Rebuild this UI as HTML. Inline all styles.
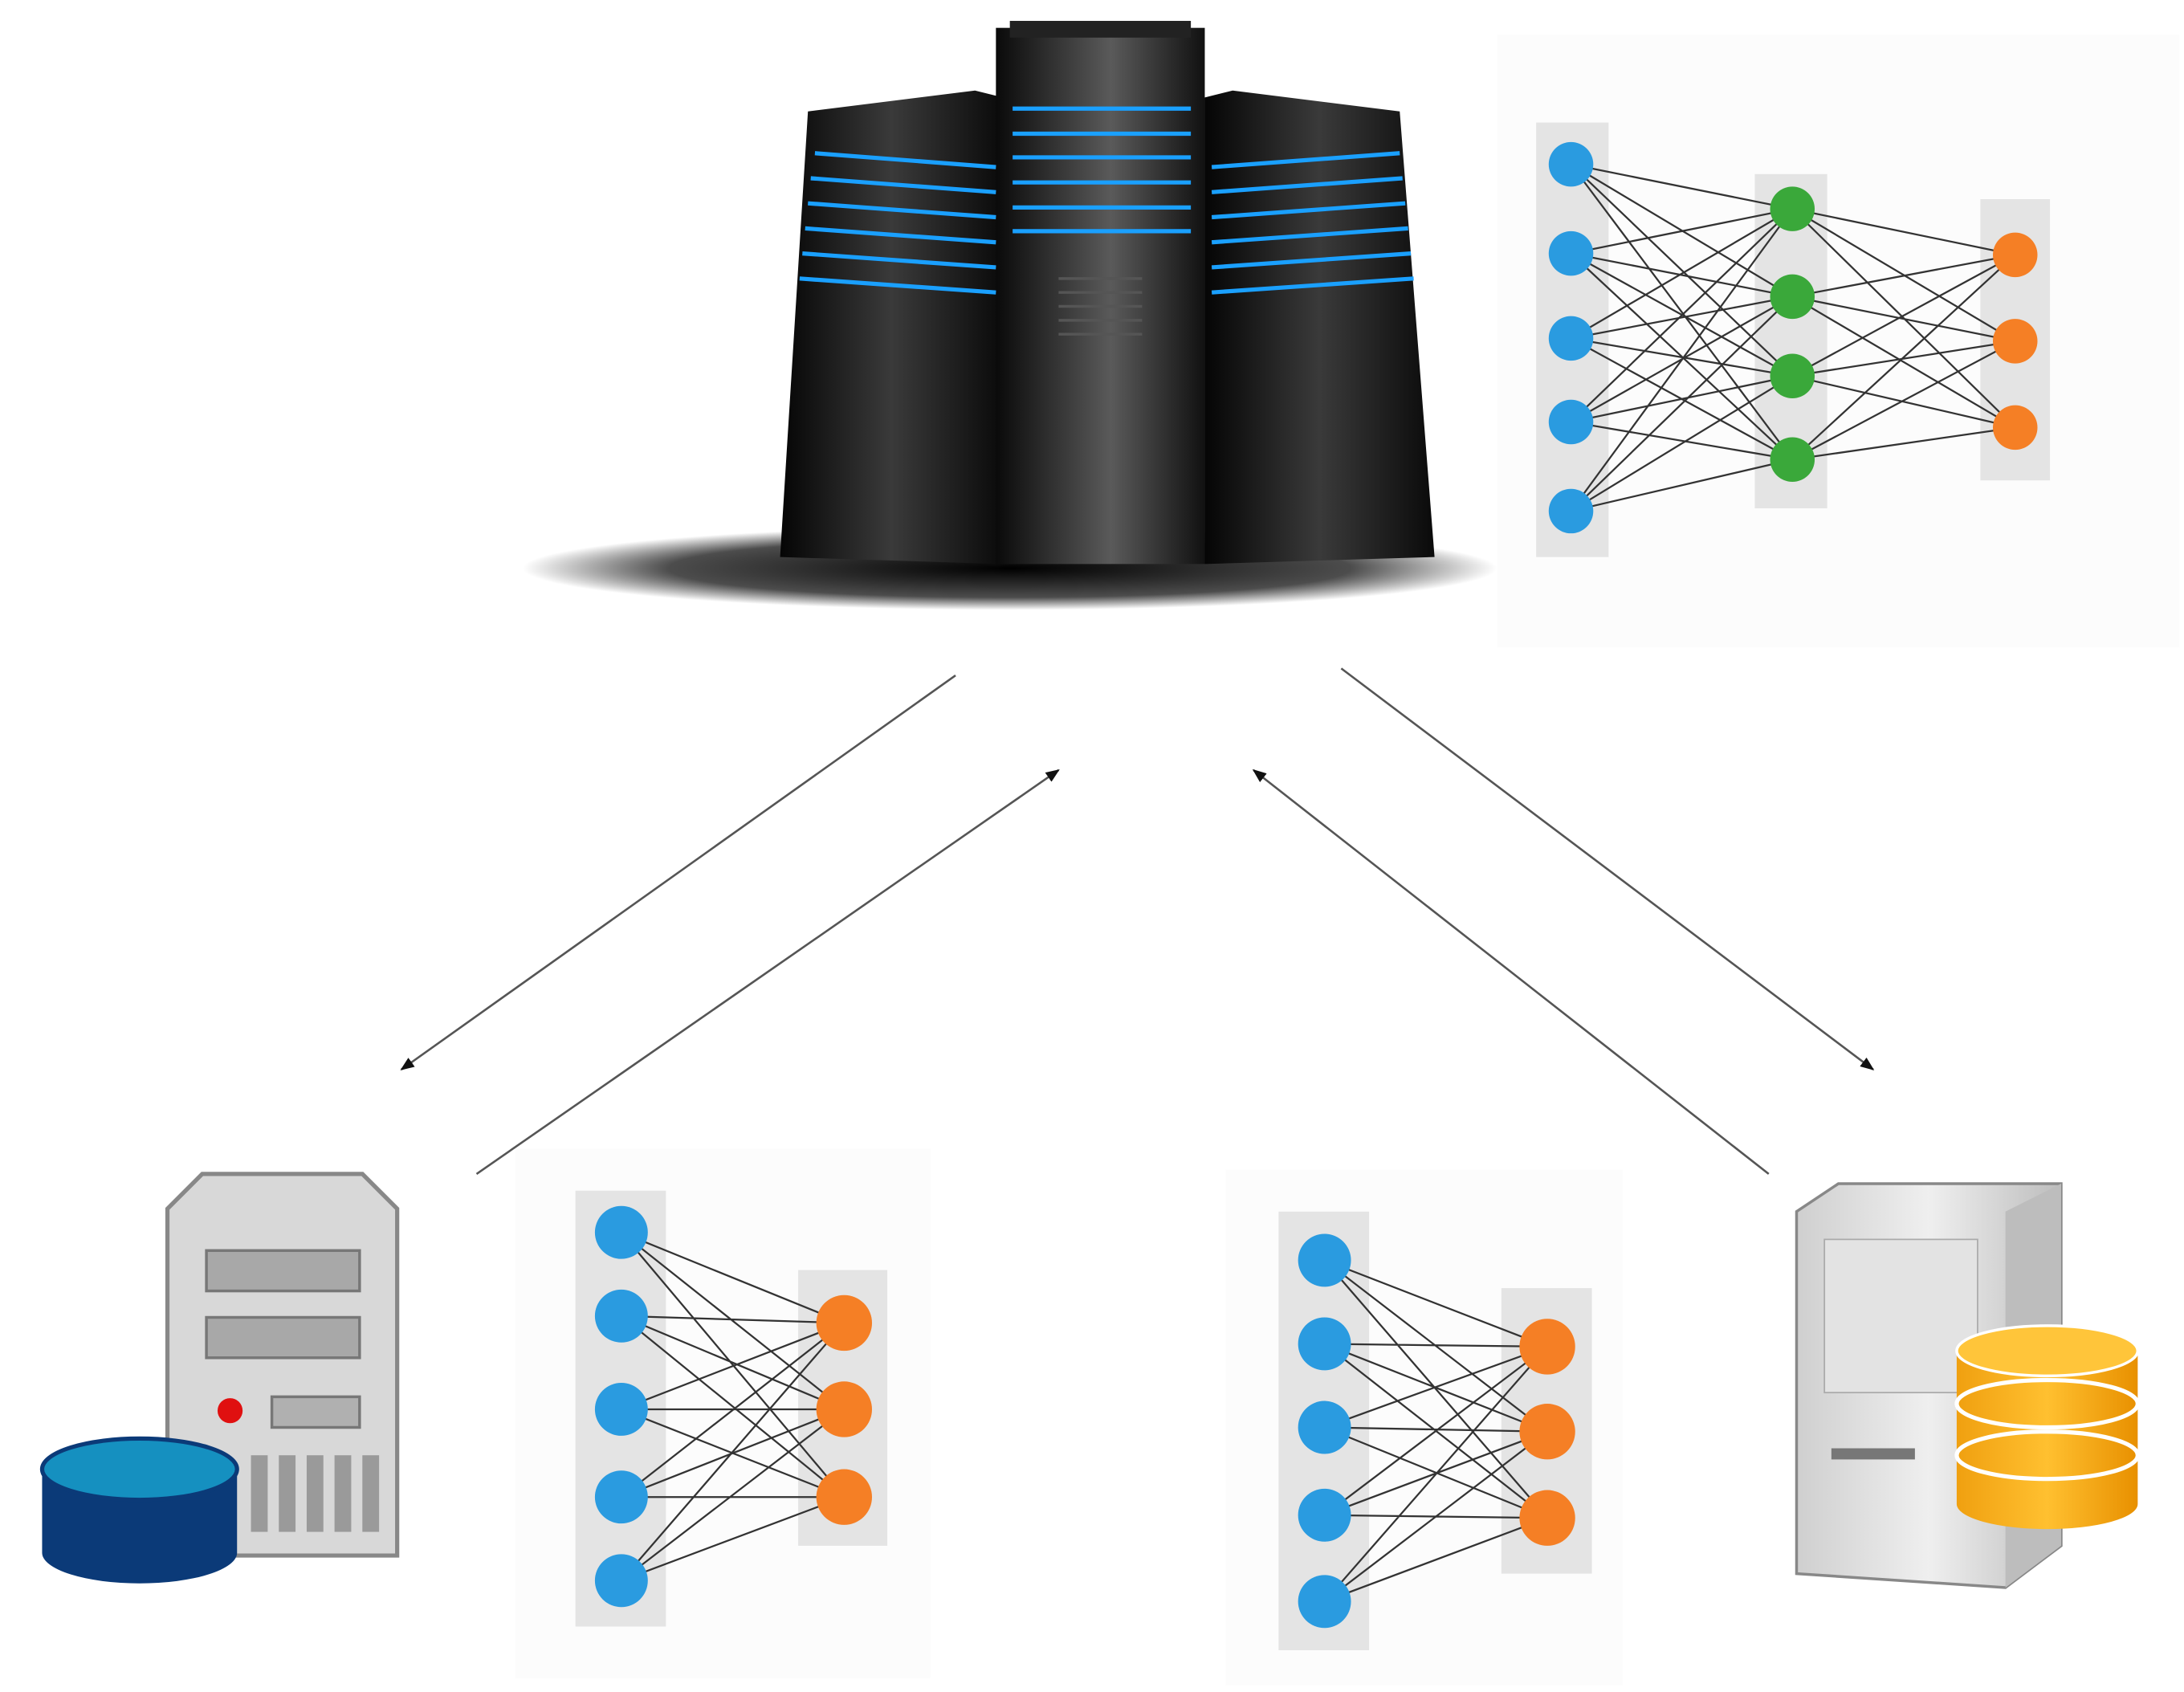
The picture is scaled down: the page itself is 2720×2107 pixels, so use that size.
<!DOCTYPE html>
<html><head><meta charset="utf-8"><style>html,body{margin:0;padding:0;background:#fff}svg{display:block}</style></head>
<body>
<svg width="2720" height="2107" viewBox="0 0 1568 1215" xmlns="http://www.w3.org/2000/svg">
<defs>
<linearGradient id="tw" x1="0" x2="1"><stop offset="0" stop-color="#050505"/><stop offset="0.5" stop-color="#3a3a3a"/><stop offset="1" stop-color="#0a0a0a"/></linearGradient>
<linearGradient id="tc" x1="0" x2="1"><stop offset="0" stop-color="#0a0a0a"/><stop offset="0.55" stop-color="#5a5a5a"/><stop offset="1" stop-color="#111"/></linearGradient>
<radialGradient id="sh" cx="0.5" cy="0.5" r="0.5"><stop offset="0" stop-color="#000"/><stop offset="0.7" stop-color="#000" stop-opacity="0.7"/><stop offset="1" stop-color="#000" stop-opacity="0"/></radialGradient>
<linearGradient id="gs" x1="0" x2="1"><stop offset="0" stop-color="#cfcfcf"/><stop offset="0.5" stop-color="#efefef"/><stop offset="1" stop-color="#bdbdbd"/></linearGradient>
<linearGradient id="org" x1="0" x2="1"><stop offset="0" stop-color="#f0a010"/><stop offset="0.5" stop-color="#ffc030"/><stop offset="1" stop-color="#e89000"/></linearGradient>
<marker id="ah" markerWidth="10" markerHeight="8" refX="9" refY="4" orient="auto" markerUnits="userSpaceOnUse"><path d="M0,0 L10,4 L0,8 z" fill="#111"/></marker>
</defs>
<!-- server cluster -->
<ellipse cx="725" cy="408" rx="350" ry="30" fill="url(#sh)"/>
<g>
<path d="M580 80 L700 65 L720 70 L720 405 L560 400 Z" fill="url(#tw)"/>
<path d="M865 70 L885 65 L1005 80 L1030 400 L865 405 Z" fill="url(#tw)"/>
<rect x="715" y="20" width="150" height="385" fill="url(#tc)"/>
<rect x="725" y="15" width="130" height="12" fill="#222"/>
<g stroke="#1aa0ff" stroke-width="3">
<line x1="727" y1="78" x2="855" y2="78"/><line x1="727" y1="96" x2="855" y2="96"/><line x1="727" y1="113" x2="855" y2="113"/><line x1="727" y1="131" x2="855" y2="131"/><line x1="727" y1="149" x2="855" y2="149"/><line x1="727" y1="166" x2="855" y2="166"/>
<line x1="585" y1="110" x2="715" y2="120"/><line x1="582" y1="128" x2="715" y2="138"/><line x1="580" y1="146" x2="715" y2="156"/><line x1="578" y1="164" x2="715" y2="174"/><line x1="576" y1="182" x2="715" y2="192"/><line x1="574" y1="200" x2="715" y2="210"/>
<line x1="870" y1="120" x2="1005" y2="110"/><line x1="870" y1="138" x2="1007" y2="128"/><line x1="870" y1="156" x2="1009" y2="146"/><line x1="870" y1="174" x2="1011" y2="164"/><line x1="870" y1="192" x2="1013" y2="182"/><line x1="870" y1="210" x2="1015" y2="200"/>
</g>
<g stroke="#555" stroke-width="2">
<line x1="760" y1="200" x2="820" y2="200"/><line x1="760" y1="210" x2="820" y2="210"/><line x1="760" y1="220" x2="820" y2="220"/><line x1="760" y1="230" x2="820" y2="230"/><line x1="760" y1="240" x2="820" y2="240"/>
</g>
</g>
<!-- top NN -->
<rect x="1075" y="25" width="490" height="440" fill="#fcfcfc"/>
<rect x="1103" y="88" width="52" height="312" fill="#e4e4e4"/>
<rect x="1260" y="125" width="52" height="240" fill="#e4e4e4"/>
<rect x="1422" y="143" width="50" height="202" fill="#e4e4e4"/>
<g stroke="#333" stroke-width="1.3" id="e1"></g>
<g stroke="#333" stroke-width="1.3">
<path d="M1128 118L1287 150M1128 118L1287 213M1128 118L1287 270M1128 118L1287 330M1128 182L1287 150M1128 182L1287 213M1128 182L1287 270M1128 182L1287 330M1128 243L1287 150M1128 243L1287 213M1128 243L1287 270M1128 243L1287 330M1128 303L1287 150M1128 303L1287 213M1128 303L1287 270M1128 303L1287 330M1128 367L1287 150M1128 367L1287 213M1128 367L1287 270M1128 367L1287 330"/>
<path d="M1287 150L1447 183M1287 150L1447 245M1287 150L1447 307M1287 213L1447 183M1287 213L1447 245M1287 213L1447 307M1287 270L1447 183M1287 270L1447 245M1287 270L1447 307M1287 330L1447 183M1287 330L1447 245M1287 330L1447 307"/>
</g>
<g fill="#2a9be0"><circle cx="1128" cy="118" r="16"/><circle cx="1128" cy="182" r="16"/><circle cx="1128" cy="243" r="16"/><circle cx="1128" cy="303" r="16"/><circle cx="1128" cy="367" r="16"/></g>
<g fill="#3aa83a"><circle cx="1287" cy="150" r="16"/><circle cx="1287" cy="213" r="16"/><circle cx="1287" cy="270" r="16"/><circle cx="1287" cy="330" r="16"/></g>
<g fill="#f57f25"><circle cx="1447" cy="183" r="16"/><circle cx="1447" cy="245" r="16"/><circle cx="1447" cy="307" r="16"/></g>
<!-- arrows -->
<g stroke="#555" stroke-width="1.5" fill="none" marker-end="url(#ah)">
<line x1="686" y1="485" x2="288" y2="768"/>
<line x1="342" y1="843" x2="760" y2="553"/>
<line x1="963" y1="480" x2="1345" y2="768"/>
<line x1="1270" y1="843" x2="900" y2="553"/>
</g>
<!-- bottom-left NN -->
<rect x="370" y="825" width="298" height="380" fill="#fcfcfc"/>
<rect x="413" y="855" width="65" height="313" fill="#e4e4e4"/>
<rect x="573" y="912" width="64" height="198" fill="#e4e4e4"/>
<g stroke="#333" stroke-width="1.3"><path d="M446 885L606 950M446 885L606 1012M446 885L606 1075M446 945L606 950M446 945L606 1012M446 945L606 1075M446 1012L606 950M446 1012L606 1012M446 1012L606 1075M446 1075L606 950M446 1075L606 1012M446 1075L606 1075M446 1135L606 950M446 1135L606 1012M446 1135L606 1075"/></g>
<g fill="#2a9be0"><circle cx="446" cy="885" r="19"/><circle cx="446" cy="945" r="19"/><circle cx="446" cy="1012" r="19"/><circle cx="446" cy="1075" r="19"/><circle cx="446" cy="1135" r="19"/></g>
<g fill="#f57f25"><circle cx="606" cy="950" r="20"/><circle cx="606" cy="1012" r="20"/><circle cx="606" cy="1075" r="20"/></g>
<!-- bottom-right NN -->
<rect x="880" y="840" width="285" height="370" fill="#fcfcfc"/>
<rect x="918" y="870" width="65" height="315" fill="#e4e4e4"/>
<rect x="1078" y="925" width="65" height="205" fill="#e4e4e4"/>
<g stroke="#333" stroke-width="1.3"><path d="M951 905L1111 967M951 905L1111 1028M951 905L1111 1090M951 965L1111 967M951 965L1111 1028M951 965L1111 1090M951 1025L1111 967M951 1025L1111 1028M951 1025L1111 1090M951 1088L1111 967M951 1088L1111 1028M951 1088L1111 1090M951 1150L1111 967M951 1150L1111 1028M951 1150L1111 1090"/></g>
<g fill="#2a9be0"><circle cx="951" cy="905" r="19"/><circle cx="951" cy="965" r="19"/><circle cx="951" cy="1025" r="19"/><circle cx="951" cy="1088" r="19"/><circle cx="951" cy="1150" r="19"/></g>
<g fill="#f57f25"><circle cx="1111" cy="967" r="20"/><circle cx="1111" cy="1028" r="20"/><circle cx="1111" cy="1090" r="20"/></g>
<!-- left server icon -->
<path d="M145 843 L260 843 L285 868 L285 1117 L120 1117 L120 868 Z" fill="#d8d8d8" stroke="#888" stroke-width="3"/>
<rect x="148" y="898" width="110" height="29" fill="#a8a8a8" stroke="#777" stroke-width="2"/>
<rect x="148" y="946" width="110" height="29" fill="#a8a8a8" stroke="#777" stroke-width="2"/>
<circle cx="165" cy="1013" r="9" fill="#e01010"/>
<rect x="195" y="1003" width="63" height="22" fill="#b0b0b0" stroke="#777" stroke-width="2"/>
<g fill="#9a9a9a"><rect x="180" y="1045" width="12" height="55"/><rect x="200" y="1045" width="12" height="55"/><rect x="220" y="1045" width="12" height="55"/><rect x="240" y="1045" width="12" height="55"/><rect x="260" y="1045" width="12" height="55"/></g>
<path d="M30 1055 L30 1115 A70 22 0 0 0 170 1115 L170 1055 Z" fill="#0b3a78"/>
<ellipse cx="100" cy="1055" rx="70" ry="22" fill="#1590c0" stroke="#0b3a78" stroke-width="3"/>
<!-- right server icon -->
<path d="M1290 870 L1320 850 L1480 850 L1480 1110 L1440 1140 L1290 1130 Z" fill="url(#gs)" stroke="#888" stroke-width="2"/>
<path d="M1440 870 L1480 850 L1480 1110 L1440 1140 Z" fill="#bdbdbd"/>
<rect x="1310" y="890" width="110" height="110" fill="#e3e3e3" stroke="#aaa"/>
<rect x="1315" y="1040" width="60" height="8" fill="#777"/>
<path d="M1405 970 L1405 1080 A65 18 0 0 0 1535 1080 L1535 970 Z" fill="url(#org)"/>
<ellipse cx="1470" cy="1008" rx="65" ry="17" fill="none" stroke="#fff" stroke-width="3"/>
<ellipse cx="1470" cy="1045" rx="65" ry="17" fill="none" stroke="#fff" stroke-width="3"/>
<ellipse cx="1470" cy="970" rx="65" ry="18" fill="#ffc53a" stroke="#fff" stroke-width="2"/>
</svg>
</body></html>
